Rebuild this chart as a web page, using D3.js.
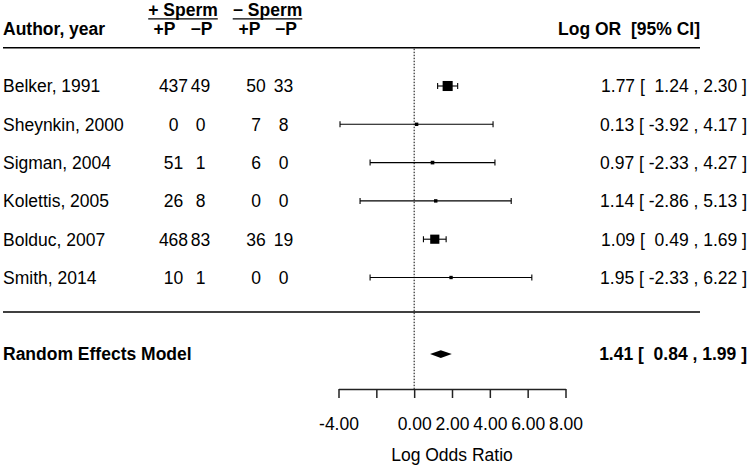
<!DOCTYPE html>
<html>
<head>
<meta charset="utf-8">
<script src="https://cdn.jsdelivr.net/npm/d3@7"></script>
<style>
  body { margin: 0; background: #fff; }
  svg text { font-family: "Liberation Sans", Arial, sans-serif; font-size: 17.5px; fill: #000; white-space: pre; }
</style>
</head>
<body>
<div id="chart"></div>
<script>
// Data
const studies = ["Belker, 1991", "Sheynkin, 2000", "Sigman, 2004", "Kolettis, 2005", "Bolduc, 2007", "Smith, 2014"];
const posSpermPosP = [437, 0, 51, 26, 468, 10];
const posSpermNegP = [49, 0, 1, 8, 83, 1];
const negSpermPosP = [50, 7, 6, 0, 36, 0];
const negSpermNegP = [33, 8, 0, 0, 19, 0];
const logOR = [1.77, 0.13, 0.97, 1.14, 1.09, 1.95];
const ciLow = [1.24, -3.92, -2.33, -2.86, 0.49, -2.33];
const ciHigh = [2.30, 4.17, 4.27, 5.13, 1.69, 6.22];

const summaryLabel = "Random Effects Model";
const summaryEst = 1.41, summaryLow = 0.84, summaryHigh = 1.99;

const xTicks = [-4, -2, 0, 2, 4, 6, 8];
const xTickLabels = ["-4.00", "", "0.00", "2.00", "4.00", "6.00", "8.00"];

// Set Dimensions
const width = 750, height = 468;
const rightEdge = 747;   // annotations right-aligned here
const lineEnd = 700;     // header / separator line end

var svg = d3.select("#chart")
  .append("svg")
  .attr("width", width)
  .attr("height", height);

// X scale (log odds ratio)
var xScale = d3.scaleLinear()
  .domain([-4, 8])
  .range([338.5, 565.5]);

// Y scale (row numbers, metafor style: k..1 from top)
var yScale = d3.scaleLinear()
  .domain([6, 1])
  .range([86, 277.5]);

const rows = studies.map((s, i) => ({
  name: s, row: 6 - i,
  a: posSpermPosP[i], b: posSpermNegP[i], c: negSpermPosP[i], d: negSpermNegP[i],
  est: logOR[i], lo: ciLow[i], hi: ciHigh[i]
}));

// square size from inverse standard error (like metafor psize)
rows.forEach(r => { r.w = 1 / ((r.hi - r.lo) / (2 * 1.96)); });
var sizeScale = d3.scaleLinear()
  .domain(d3.extent(rows, r => r.w))
  .range([0.5, 1.5]);

const fmt = v => (v < 0 ? "" : " ") + v.toFixed(2);
const ciText = (e, l, h) => e.toFixed(2) + " [ " + fmt(l) + " , " + h.toFixed(2) + " ]";

const textDy = "0.36em";

// Header
const headerY = yScale(7);
svg.append("line")
  .attr("x1", 3).attr("x2", lineEnd)
  .attr("y1", headerY).attr("y2", headerY)
  .attr("stroke", "#000").attr("stroke-width", 1.6);

svg.append("text")
  .attr("x", 3).attr("y", yScale(7.5)).attr("dy", textDy)
  .style("font-weight", "bold")
  .text("Author, year");

svg.append("text")
  .attr("x", lineEnd).attr("y", yScale(7.5)).attr("dy", textDy)
  .attr("text-anchor", "end")
  .style("font-weight", "bold")
  .text("Log OR  [95% CI]");

// group headings with underline
const groups = [{label: "+ Sperm", x: 183}, {label: "\u2212 Sperm", x: 267.5}];
groups.forEach(g => {
  var t = svg.append("text")
    .attr("x", g.x).attr("y", yScale(8)).attr("dy", textDy)
    .attr("text-anchor", "middle")
    .style("font-weight", "bold")
    .text(g.label);
  var bb = t.node().getBBox();
  svg.append("line")
    .attr("x1", bb.x).attr("x2", bb.x + bb.width)
    .attr("y1", yScale(8) + 9.5).attr("y2", yScale(8) + 9.5)
    .attr("stroke", "#000").attr("stroke-width", 1.3);
});

const subHeads = [{label: "+P", x: 164.5}, {label: "\u2212P", x: 201.5}, {label: "+P", x: 249.5}, {label: "\u2212P", x: 286}];
svg.selectAll(".subhead")
  .data(subHeads)
  .enter()
  .append("text")
    .attr("class", "subhead")
    .attr("x", d => d.x)
    .attr("y", yScale(7.5)).attr("dy", textDy)
    .attr("text-anchor", "middle")
    .style("font-weight", "bold")
    .text(d => d.label);

// Reference line at zero
svg.append("line")
  .attr("x1", xScale(0)).attr("x2", xScale(0))
  .attr("y1", headerY + 1).attr("y2", 389)
  .attr("stroke", "#000").attr("stroke-width", 1)
  .attr("stroke-dasharray", "1.5,1.5");

// Study labels and counts
const colX = [173.5, 200.5, 256, 283.5];
const rowG = svg.selectAll(".row")
  .data(rows)
  .enter()
  .append("g")
  .attr("class", "row");

rowG.append("text")
  .attr("x", 3).attr("y", d => yScale(d.row)).attr("dy", textDy)
  .text(d => d.name);

["a", "b", "c", "d"].forEach((k, j) => {
  rowG.append("text")
    .attr("x", colX[j]).attr("y", d => yScale(d.row)).attr("dy", textDy)
    .attr("text-anchor", "middle")
    .text(d => d[k]);
});

rowG.append("text")
  .attr("x", rightEdge).attr("y", d => yScale(d.row)).attr("dy", textDy)
  .attr("text-anchor", "end")
  .text(d => ciText(d.est, d.lo, d.hi));

// CI lines with caps
rowG.append("line")
  .attr("x1", d => xScale(d.lo)).attr("x2", d => xScale(d.hi))
  .attr("y1", d => yScale(d.row)).attr("y2", d => yScale(d.row))
  .attr("stroke", "#000").attr("stroke-width", 1.1);

["lo", "hi"].forEach(k => {
  rowG.append("line")
    .attr("x1", d => xScale(d[k])).attr("x2", d => xScale(d[k]))
    .attr("y1", d => yScale(d.row) - 3).attr("y2", d => yScale(d.row) + 3)
    .attr("stroke", "#000").attr("stroke-width", 1.1);
});

// Squares
const baseSize = 6.7;
rowG.append("rect")
  .attr("x", d => xScale(d.est) - sizeScale(d.w) * baseSize / 2)
  .attr("y", d => yScale(d.row) - sizeScale(d.w) * baseSize / 2)
  .attr("width", d => sizeScale(d.w) * baseSize)
  .attr("height", d => sizeScale(d.w) * baseSize)
  .attr("fill", "#000");

// Separator line
svg.append("line")
  .attr("x1", 3).attr("x2", lineEnd)
  .attr("y1", yScale(0.1)).attr("y2", yScale(0.1))
  .attr("stroke", "#000").attr("stroke-width", 1.6);

// Summary
const sumY = yScale(-1);
svg.append("text")
  .attr("x", 3).attr("y", sumY).attr("dy", textDy)
  .style("font-weight", "bold")
  .text(summaryLabel);

svg.append("text")
  .attr("x", rightEdge).attr("y", sumY).attr("dy", textDy)
  .attr("text-anchor", "end")
  .style("font-weight", "bold")
  .text(ciText(summaryEst, summaryLow, summaryHigh));

svg.append("path")
  .attr("d", d3.line()([
    [xScale(summaryLow), sumY],
    [xScale(summaryEst), sumY - 3.8],
    [xScale(summaryHigh), sumY],
    [xScale(summaryEst), sumY + 3.8]
  ]) + "Z")
  .attr("fill", "#000");

// X Axis
var xAxis = d3.axisBottom(xScale)
  .tickValues(xTicks)
  .tickSize(9)
  .tickSizeOuter(0)
  .tickPadding(20)
  .tickFormat((d, i) => xTickLabels[i]);

var axisG = svg.append("g")
  .attr("transform", "translate(0,389)")
  .call(xAxis);

axisG.select(".domain")
  .attr("stroke", "#222").attr("stroke-width", 1.5);
axisG.selectAll(".tick line")
  .attr("stroke", "#222").attr("stroke-width", 1.5);
axisG.selectAll(".tick text")
  .style("font-size", "17.5px")
  .style("font-family", "'Liberation Sans', Arial, sans-serif")
  .attr("fill", "#000");

svg.append("text")
  .attr("x", (xScale(-4) + xScale(8)) / 2)
  .attr("y", 455).attr("dy", textDy)
  .attr("text-anchor", "middle")
  .text("Log Odds Ratio");
</script>
</body>
</html>
